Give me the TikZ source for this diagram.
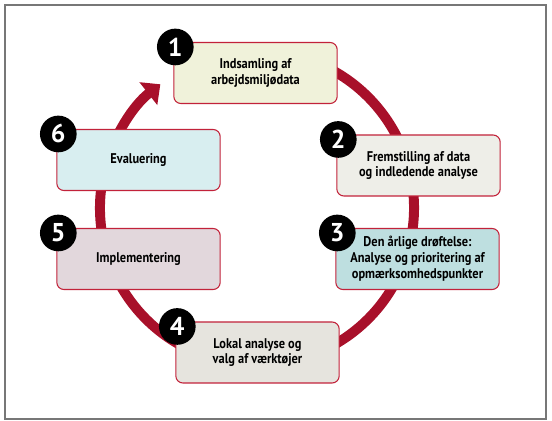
\documentclass[tikz,border=0pt]{standalone}
\usepackage{fontspec}
\newfontfamily\boxfont{PT Sans}[FakeStretch=0.88]
\newfontfamily\numfont{PT Sans}
\usetikzlibrary{arrows.meta}

\definecolor{ringred}{HTML}{A8102A}
\definecolor{edgered}{HTML}{C2223A}
\definecolor{frameg}{HTML}{777777}
\definecolor{fillA}{HTML}{F0F2DA}
\definecolor{fillB}{HTML}{EEEEE8}
\definecolor{fillC}{HTML}{BEDFE0}
\definecolor{fillD}{HTML}{E6E4DE}
\definecolor{fillE}{HTML}{E2D7DC}
\definecolor{fillF}{HTML}{D8EEF0}

\begin{document}
\begin{tikzpicture}[x=0.03cm, y=0.03cm,
stepbox/.style={draw=edgered, line width=0.9pt, rounded corners=6pt, minimum width=4.9cm, minimum height=1.83cm, align=center, font=\boxfont\bfseries\fontsize{12}{13.5}\selectfont, inner sep=2pt},
numdot/.style={circle, fill=black, minimum size=1.1cm, inner sep=0pt, text=white, font=\numfont\bfseries\fontsize{22}{22}\selectfont}]
\useasboundingbox (0,0) rectangle (552,421);
\draw[frameg, line width=1.3pt] (5,416) rectangle (546,2);

% the cycle
\coordinate (mid) at (257,213);
\draw[ringred, line width=8.5pt, -{Triangle[length=13pt, width=24pt]}] ([shift={(75:157)}]mid) arc[start angle=75, end angle=-232, radius=157];

% steps
\node[stepbox, fill=fillA] (b1) at (255.5,348) {Indsamling af\\arbejdsmiljødata};
\node[stepbox, fill=fillB] (b2) at (418.5,255.5) {Fremstilling af data\\og indledende analyse};
\node[stepbox, fill=fillC] (b3) at (417.5,162) {Den årlige drøftelse:\\Analyse og prioritering af\\opmærksomhedspunkter};
\node[stepbox, fill=fillD] (b4) at (257.5,68.5) {Lokal analyse og\\valg af værktøjer};
\node[stepbox, fill=fillE] (b5) at (138.5,162) {Implementering};
\node[stepbox, fill=fillF] (b6) at (138.5,261) {Evaluering};

% numbers
\foreach \n in {1,...,6}
  \node[numdot] (n\n) at ([shift={(2,-5)}]b\n.north west) {\n};
\end{tikzpicture}
\end{document}
